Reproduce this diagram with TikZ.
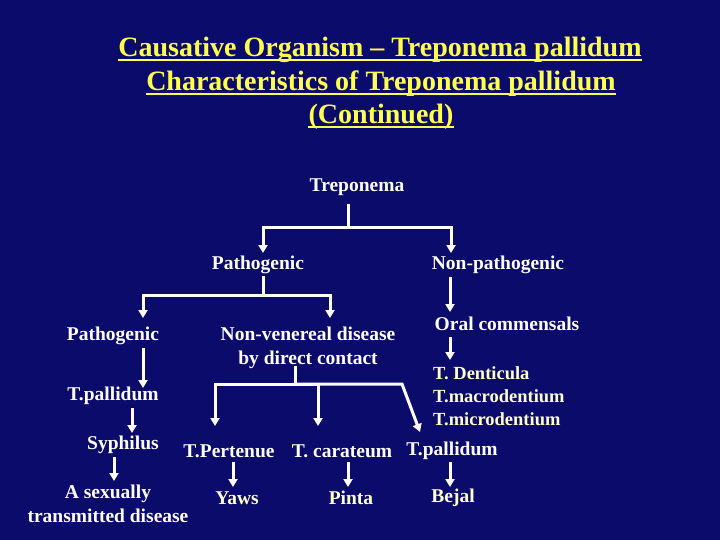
\documentclass[tikz,border=0pt]{standalone}
\usepackage{fontspec}
\setmainfont{Liberation Serif}
\usetikzlibrary{arrows.meta}
\definecolor{bg}{HTML}{0B0B6B}
\definecolor{ttlc}{HTML}{FFFF4D}
\definecolor{pale}{HTML}{FFFFCC}
\tikzset{
  txt/.style={text=white, font=\bfseries\fontsize{19.5}{24}\selectfont, inner sep=0pt, align=center, yshift=-2pt},
  ptxt/.style={txt, text=pale},
  ttl/.style={text=ttlc, font=\bfseries\fontsize{28}{32}\selectfont, inner sep=0pt, yshift=-2pt},
  ln/.style={white, line width=3pt},
  arr/.style={ln, -{Triangle[width=9pt,length=8pt]}},
  uline/.style={ttlc, line width=1.8pt}
}
\begin{document}
\begin{tikzpicture}[x=1pt,y=-1pt]
\fill[bg] (0,0) rectangle (720,540);
\useasboundingbox (0,0) rectangle (720,540);
% title
\node[ttl] (t1) at (380,48) {Causative Organism – Treponema pallidum};
\node[ttl] (t2) at (381,82) {Characteristics of Treponema pallidum};
\node[ttl] (t3) at (381,115) {(Continued)};
\foreach \t in {t1,t2,t3}
  \draw[uline] ([yshift=-3.5pt]\t.base west) -- ([yshift=-3.5pt]\t.base east);
% nodes
\node[txt] (trep) at (357,185) {Treponema};
\node[txt] (patA) at (258,263) {Pathogenic};
\node[txt] (nonpat) at (498,263) {Non-pathogenic};
\node[txt] (patB) at (113,334) {Pathogenic};
\node[txt] (nonven) at (308,346) {Non-venereal disease\\by direct contact};
\node[txt] (oral) at (507,322) {Oral commensals};
\node[ptxt, font=\bfseries\fontsize{18.5}{23}\selectfont, anchor=north west, align=left, yshift=0pt] (dent) at (433,364) {T. Denticula\\T.macrodentium\\T.microdentium};
\node[txt] (tpal1) at (113,394) {T.pallidum};
\node[txt] (syph) at (123,443) {Syphilus};
\node[txt] (std) at (108,502) {A sexually\\transmitted disease};
\node[txt] (tpert) at (229,449) {T.Pertenue};
\node[txt] (tcar) at (342,449) {T. carateum};
\node[txt] (tpal2) at (452,449) {T.pallidum};
\node[ptxt] (yaws) at (237,496) {Yaws};
\node[ptxt] (pinta) at (351,496) {Pinta};
\node[ptxt] (bejal) at (453,496) {Bejal};
% connectors
\coordinate (j1) at (348,228);
\draw[ln] (348,204) -- (j1);
\draw[arr] (j1) -| (263,253);
\draw[arr] (j1) -| (451,253);
\coordinate (j2) at (263,295);
\draw[ln] (263,276) -- (j2);
\draw[arr] (j2) -| (143,318);
\draw[arr] (j2) -| (330,318);
\draw[arr] (143,348) -- (143,388);
\draw[arr] (132,408) -- (132,433);
\draw[arr] (114,457) -- (114,481);
\coordinate (j3) at (295,384);
\draw[ln] (295,366) -- (j3);
\draw[arr] (j3) -| (215,426);
\draw[arr] (j3) -| (318,426);
\draw[arr] (j3) -- (402,384) -- (420,432);
\draw[arr] (233,462) -- (233,487);
\draw[arr] (348,462) -- (348,487);
\draw[arr] (450,462) -- (450,487);
\draw[arr] (450,277) -- (450,312);
\draw[arr] (450,337) -- (450,360);
\end{tikzpicture}
\end{document}
